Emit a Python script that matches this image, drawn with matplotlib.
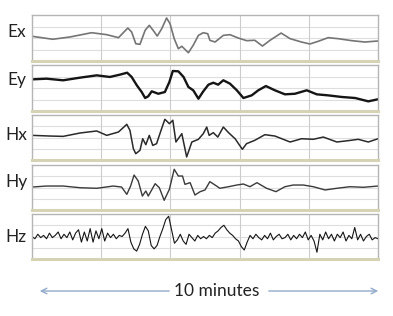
import numpy as np
import matplotlib.pyplot as plt
from matplotlib.patches import FancyArrowPatch

# time in minutes, amplitude in grid units (0 = bottom of panel, 4 = top)
ex_t = [0, 0.6, 1.1, 1.72, 2.16, 2.5, 2.77, 2.88, 3.0, 3.12, 3.27, 3.39, 3.5, 3.62,
        3.75, 3.89, 3.99, 4.11, 4.23, 4.33, 4.52, 4.66, 4.81, 4.95, 5.08, 5.14, 5.29,
        5.53, 5.72, 5.96, 6.2, 6.44, 6.66, 6.88, 7.2, 7.46, 7.79, 8.03, 8.27, 8.56,
        8.85, 9.24, 9.62, 10.0]
ex_v = [2.15, 1.89, 2.09, 2.46, 2.29, 2.03, 2.87, 2.52, 1.5, 1.45, 2.67, 3.1, 2.67, 2.17,
        2.81, 3.74, 3.24, 1.94, 1.07, 1.28, 0.72, 1.37, 2.23, 2.46, 2.37, 1.8, 1.65,
        2.23, 2.29, 2.0, 1.77, 1.8, 1.3, 1.8, 2.43, 1.94, 1.65, 1.48, 1.71, 2.03,
        1.94, 1.77, 1.65, 1.74]

ey_t = [0, 0.42, 0.9, 1.39, 1.87, 2.25, 2.54, 2.75, 2.88, 3.03, 3.17, 3.27, 3.36, 3.46,
        3.65, 3.84, 3.97, 4.07, 4.23, 4.38, 4.52, 4.66, 4.81, 4.95, 5.1, 5.24, 5.38,
        5.53, 5.72, 5.92, 6.11, 6.35, 6.54, 6.76, 7.02, 7.31, 7.6, 7.94, 8.23, 8.56,
        8.95, 9.34, 9.72, 10.0]
ey_v = [2.75, 2.81, 2.67, 2.9, 3.1, 2.96, 3.16, 3.33, 2.96, 2.23, 1.65, 1.13, 1.28, 1.71,
        1.5, 1.65, 2.52, 3.48, 3.45, 2.96, 2.09, 1.8, 1.07, 1.71, 2.29, 2.46, 2.29,
        2.67, 2.38, 1.8, 1.13, 1.36, 1.8, 2.17, 1.8, 1.45, 1.5, 1.8, 1.45, 1.36,
        1.22, 1.13, 0.84, 1.02]

hx_t = [0, 0.52, 0.9, 1.39, 1.87, 2.16, 2.5, 2.74, 2.83, 2.93, 3.0, 3.12, 3.2, 3.29,
        3.39, 3.49, 3.6, 3.73, 3.84, 3.97, 4.07, 4.16, 4.33, 4.47, 4.62, 4.81, 4.95,
        5.05, 5.12, 5.24, 5.37, 5.53, 5.68, 5.87, 6.08, 6.2, 6.44, 6.73, 7.02, 7.46,
        7.79, 8.13, 8.42, 8.81, 9.14, 9.43, 9.72, 10.0]
hx_v = [2.19, 2.13, 2.1, 2.4, 2.58, 2.19, 2.49, 3.17, 2.64, 1.0, 0.56, 0.86, 1.89, 1.36,
        2.19, 1.3, 1.45, 2.64, 3.62, 3.23, 3.53, 1.6, 2.34, 0.27, 1.6, 1.84, 2.34,
        2.93, 2.19, 2.43, 2.04, 2.93, 2.43, 1.89, 0.95, 1.45, 1.75, 2.25, 2.13, 1.6,
        1.89, 1.84, 2.04, 1.6, 1.72, 1.84, 1.6, 1.89]

hy_t = [0, 0.42, 0.9, 1.39, 1.87, 2.35, 2.59, 2.74, 2.85, 2.95, 3.07, 3.19, 3.29, 3.36,
        3.56, 3.68, 3.82, 3.97, 4.11, 4.23, 4.35, 4.42, 4.57, 4.71, 4.86, 5.0, 5.14,
        5.29, 5.43, 5.68, 5.92, 6.11, 6.3, 6.5, 6.78, 7.05, 7.31, 7.55, 7.84, 8.13,
        8.47, 8.81, 9.19, 9.58, 10.0]
hy_v = [2.04, 2.13, 2.13, 1.98, 1.93, 2.13, 2.04, 1.39, 2.13, 3.11, 2.58, 1.24, 1.69, 1.24,
        2.34, 1.98, 0.86, 1.84, 3.62, 3.02, 3.02, 2.28, 2.43, 1.33, 1.63, 1.78, 2.52,
        2.22, 1.93, 2.07, 2.22, 2.31, 2.07, 2.43, 1.93, 1.63, 2.07, 2.22, 2.22, 2.07,
        1.78, 1.93, 2.07, 2.02, 2.13]

# Hz is noisy, sampled evenly over the 10 minutes
hz_v = [2.0, 1.8, 2.2, 1.9, 2.1, 1.8, 2.3, 1.9, 2.1, 2.4,
        1.8, 2.2, 1.9, 2.4, 1.7, 2.3, 2.6, 1.5, 2.4, 1.6,
        2.7, 1.5, 2.5, 1.8, 2.7, 1.6, 2.3, 1.9, 2.2, 1.8,
        2.1, 2.0, 2.3, 2.7, 1.5, 0.9, 0.7, 1.3, 2.2, 2.9,
        2.5, 1.2, 0.9, 1.2, 2.0, 2.7, 3.5, 3.8, 2.6, 1.4,
        1.7, 2.2, 1.6, 1.3, 2.2, 1.9, 1.6, 2.1, 1.8, 2.0,
        1.8, 2.1, 1.9, 2.3, 2.5, 2.8, 3.0, 2.6, 2.3, 2.1,
        1.8, 1.6, 1.1, 0.8, 1.5, 2.1, 1.8, 2.2, 1.9, 1.7,
        2.1, 1.8, 2.3, 1.7, 2.0, 2.2, 1.8, 1.9, 2.2, 1.7,
        2.1, 1.8, 2.2, 1.9, 2.4, 1.7, 2.1, 1.6, 0.6, 2.2,
        1.7, 2.4, 1.8, 2.2, 1.6, 2.2, 1.9, 2.4, 1.6, 2.1,
        1.8, 2.8, 1.7, 2.2, 1.6, 2.0, 2.2, 1.7, 1.9, 1.8]
hz_t = np.linspace(0, 10, len(hz_v))

names = ['Ex', 'Ey', 'Hx', 'Hy', 'Hz']
series = [(ex_t, ex_v), (ey_t, ey_v), (hx_t, hx_v), (hy_t, hy_v), (hz_t, hz_v)]
colors = ['#757575', '#151515', '#2a2a2a', '#3a3a3a', '#151515']
widths = [1.2, 1.7, 1.1, 1.0, 0.8]
label_y = [0.63, 0.67, 0.56, 0.62, 0.49]
# panel top/bottom in pixels
panels = [(15, 61), (65, 111), (115, 160), (165, 210), (214, 259)]

W, H = 393, 316
fig = plt.figure(figsize=(W / 100, H / 100), dpi=100)
fig.patch.set_facecolor('white')

for i in range(5):
    top, bot = panels[i]
    ax = fig.add_axes([32 / W, 1 - bot / H, 346 / W, (bot - top) / H])
    ax.set_xlim(0, 10)
    ax.set_ylim(0, 4)
    for y in [1, 2, 3]:
        ax.axhline(y, color='#dedede', lw=0.8, zorder=0)
    for x in [2, 4, 6, 8]:
        ax.axvline(x, color='#cccccc', lw=0.8, zorder=0)
    t, v = series[i]
    ax.plot(t, v, color=colors[i], lw=widths[i], zorder=2)
    ax.set_xticks([])
    ax.set_yticks([])
    for s in ['top', 'left', 'right']:
        ax.spines[s].set_color('#b5b5b5')
        ax.spines[s].set_linewidth(1.0)
    ax.spines['bottom'].set_color('#d6d2b4')
    ax.spines['bottom'].set_linewidth(2.2)
    ax.text(-0.045, label_y[i], names[i], transform=ax.transAxes, ha='center',
            va='center', fontsize=12.5, family='Lato', color='#222222')

# time span arrow
fig.text(217 / W, 1 - 291 / H, '10 minutes', ha='center', va='center',
         fontsize=12.5, family='Lato', color='#222222')
arrow_kw = dict(arrowstyle='->', color='#93aacb', lw=1.0, mutation_scale=10,
                transform=fig.transFigure)
fig.patches.append(FancyArrowPatch((172 / W, 1 - 291 / H), (37 / W, 1 - 291 / H), **arrow_kw))
fig.patches.append(FancyArrowPatch((266 / W, 1 - 291 / H), (381 / W, 1 - 291 / H), **arrow_kw))

fig.savefig('out.png', dpi=100)
